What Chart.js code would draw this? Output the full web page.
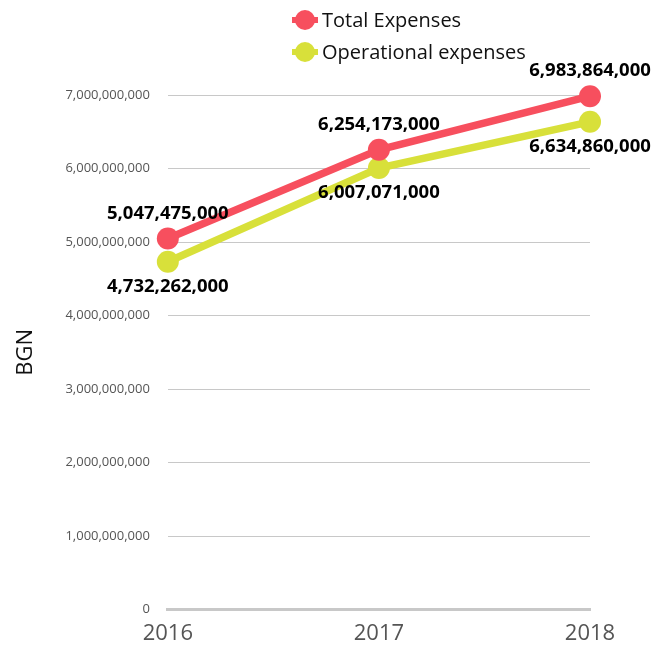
<!DOCTYPE html>
<html><head><meta charset="utf-8">
<script src="https://cdn.jsdelivr.net/npm/chart.js@4/dist/chart.umd.min.js"></script>
<style>html,body{margin:0;padding:0;background:#fff}#wrap{width:668px;height:648px}</style>
</head><body><div id="wrap"><canvas id="c"></canvas></div>
<script>
const years = ['2016', '2017', '2018'];
const totalExpenses = [5047475000, 6254173000, 6983864000];
const operationalExpenses = [4732262000, 6007071000, 6634860000];
const seriesNames = ['Total Expenses', 'Operational expenses'];
const seriesColors = ['#f74f5e', '#d8e03a'];
const yTicks = [0, 1000000000, 2000000000, 3000000000, 4000000000, 5000000000, 6000000000, 7000000000];

const FONT = "'Open Sans', sans-serif";
const fmt = v => v.toLocaleString('en-US');

const dataLabels = {
  id: 'dataLabels',
  afterDatasetsDraw(chart) {
    const ctx = chart.ctx;
    ctx.save();
    ctx.font = "bold 18.5px " + FONT;
    ctx.fillStyle = '#000';
    ctx.textAlign = 'center';
    ctx.textBaseline = 'middle';
    chart.data.datasets.forEach((ds, di) => {
      const meta = chart.getDatasetMeta(di);
      meta.data.forEach((pt, i) => {
        const dy = di === 0 ? -25 : 25;
        ctx.fillText(fmt(ds.data[i]), pt.x, pt.y + dy);
      });
    });
    ctx.restore();
  }
};

const legendPlugin = {
  id: 'customLegend',
  afterDraw(chart) {
    const ctx = chart.ctx;
    ctx.save();
    chart.data.datasets.forEach((ds, di) => {
      const cx = 305, cy = 20 + di * 32;
      ctx.strokeStyle = ds.borderColor;
      ctx.lineWidth = 6;
      ctx.beginPath(); ctx.moveTo(cx - 13, cy); ctx.lineTo(cx + 13, cy); ctx.stroke();
      ctx.fillStyle = ds.borderColor;
      ctx.beginPath(); ctx.arc(cx, cy, 10, 0, Math.PI * 2); ctx.fill();
      ctx.fillStyle = '#111';
      ctx.font = "20px " + FONT;
      ctx.textAlign = 'left';
      ctx.textBaseline = 'middle';
      ctx.fillText(ds.label, cx + 17, cy + 1);
    });
    ctx.restore();
  }
};

new Chart(document.getElementById('c'), {
  type: 'line',
  data: {
    labels: years,
    datasets: [
      { label: seriesNames[0], data: totalExpenses, borderColor: seriesColors[0], backgroundColor: seriesColors[0], borderWidth: 7.5, pointRadius: 11, pointBorderWidth: 0, pointHoverRadius: 11, clip: false, tension: 0 },
      { label: seriesNames[1], data: operationalExpenses, borderColor: seriesColors[1], backgroundColor: seriesColors[1], borderWidth: 7.5, pointRadius: 11, pointBorderWidth: 0, pointHoverRadius: 11, clip: false, tension: 0 }
    ]
  },
  options: {
    responsive: true,
    maintainAspectRatio: false,
    animation: false,
    layout: { padding: { top: 95, right: 78, left: 5, bottom: -5 } },
    plugins: { legend: { display: false }, tooltip: { enabled: false } },
    scales: {
      x: {
        offset: false,
        grid: { display: false, drawTicks: true, tickLength: 5 },
        border: { display: true, color: '#c8c8c8', width: 3 },
        ticks: { color: '#555', font: { family: FONT, size: 22 }, padding: 6 }
      },
      y: {
        min: 0, max: 7000000000,
        afterBuildTicks(scale) { scale.ticks = yTicks.map(v => ({ value: v })); },
        grid: { color: '#c8c8c8', drawTicks: false, lineWidth: 1 },
        border: { display: false },
        ticks: { color: '#555', font: { family: FONT, size: 13 }, padding: 18, callback: v => fmt(v) },
        title: { display: true, text: 'BGN', color: '#111', font: { family: FONT, size: 22 }, padding: 8 }
      }
    }
  },
  plugins: [dataLabels, legendPlugin]
});
</script></body></html>
